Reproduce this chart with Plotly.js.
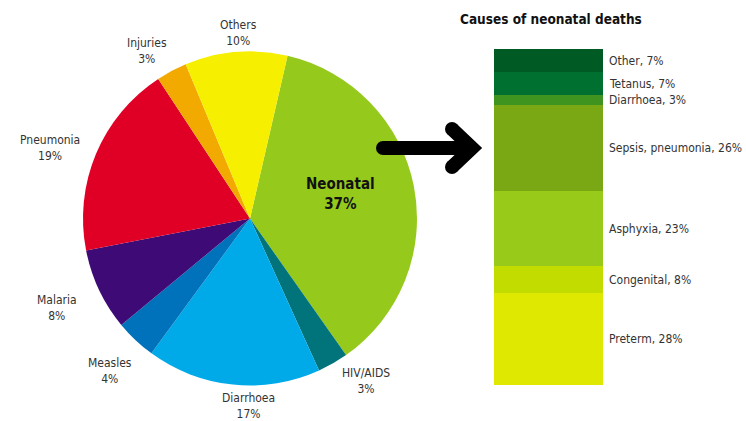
<!DOCTYPE html>
<html><head><meta charset="utf-8">
<script src="https://cdn.plot.ly/plotly-3.0.1.min.js"></script>
<style>html,body{margin:0;padding:0;background:#fff;}#c{width:746px;height:421px;}</style>
</head><body><div id="c"></div>
<script>
// Pie: causes of child deaths (clockwise from Neonatal)
var pieLabels = ["Neonatal","HIV/AIDS","Diarrhoea","Measles","Malaria","Pneumonia","Injuries","Others"];
var pieValues = [37,3,17,4,8,19,3,10];
var pieColors = ["#95c91b","#00737b","#00aae8","#0072bb","#3d0a76","#e00026","#f2a900","#f7ef00"];

// Stacked bar: causes of neonatal deaths (bottom to top)
var barLabels = ["Preterm","Congenital","Asphyxia","Sepsis, pneumonia","Diarrhoea","Tetanus","Other"];
var barValues = [28,8,23,26,3,7,7];
var barColors = ["#dfe800","#c2dc00","#97ca19","#7aa815","#3f9420","#007030","#005a24"];

var W = 746, H = 421;
function px(x){return x/W;}
function py(y){return 1 - y/H;}

var FONT = "DejaVu Sans Condensed, sans-serif";

var traces = [{
  type:"pie", labels:pieLabels, values:pieValues, sort:false, direction:"clockwise",
  rotation:13, marker:{colors:pieColors, line:{width:0}}, textinfo:"none", hoverinfo:"label+value",
  domain:{x:[px(83),px(417)], y:[py(386),py(51)]}, showlegend:false
}];
barLabels.forEach(function(l,i){
  traces.push({type:"bar", x:[0], y:[barValues[i]], width:1, name:l,
    marker:{color:barColors[i], line:{width:0}}, xaxis:"x", yaxis:"y", showlegend:false, hoverinfo:"name+y"});
});

// pie label annotation positions (centre of two-line label)
var pieLabelPos = {
  "Neonatal":[340,194], "HIV/AIDS":[366,381], "Diarrhoea":[248,406], "Measles":[110,371],
  "Malaria":[57,308], "Pneumonia":[50,148], "Injuries":[147,51], "Others":[238,33]
};
var ann = [];
pieLabels.forEach(function(l,i){
  var p = pieLabelPos[l];
  var big = (l==="Neonatal");
  ann.push({xref:"paper", yref:"paper", x:px(p[0]), y:py(p[1]), xanchor:"center", yanchor:"middle",
    text: big ? "<b>"+l+"<br>"+pieValues[i]+"%</b>" : l+"<br>"+pieValues[i]+"%",
    showarrow:false, align:"center",
    font:{family:FONT, size: big?15:12, color: big?"#111":"#333"}});
});
var cum = 0;
barLabels.forEach(function(l,i){
  var mid = cum + barValues[i]/2; cum += barValues[i];
  ann.push({xref:"paper", yref:"y", x:px(607), y:mid, xanchor:"left", yanchor:"middle",
    text:l+", "+barValues[i]+"%", showarrow:false, font:{family:FONT, size:12, color:"#333"}});
});
ann.push({xref:"paper", yref:"paper", x:px(551), y:py(19), xanchor:"center", yanchor:"middle",
  text:"<b>Causes of neonatal deaths</b>", showarrow:false, font:{family:FONT, size:13.5, color:"#111"}});

// arrow decoration
var shapes = [
  {type:"path", xref:"paper", yref:"paper",
   path:"M "+px(383)+" "+py(148)+" L "+px(472)+" "+py(148), line:{color:"#000", width:14}},
  {type:"path", xref:"paper", yref:"paper",
   path:"M "+px(452)+" "+py(129)+" L "+px(472)+" "+py(148)+" L "+px(452)+" "+py(167), line:{color:"#000", width:14}}
];
[[383,148],[452,129],[452,167]].forEach(function(c){
  shapes.push({type:"circle", xref:"paper", yref:"paper", x0:px(c[0]-7), x1:px(c[0]+7), y0:py(c[1]+7), y1:py(c[1]-7),
    fillcolor:"#000", line:{width:0}});
});

var layout = {
  width:W, height:H, margin:{l:0,r:0,t:0,b:0}, paper_bgcolor:"#fff", plot_bgcolor:"rgba(0,0,0,0)",
  barmode:"stack", bargap:0,
  xaxis:{domain:[px(494),px(603)], range:[-0.5,0.5], visible:false, fixedrange:true},
  yaxis:{domain:[py(385),py(49)], range:[0,cum], visible:false, fixedrange:true},
  annotations:ann, shapes:shapes, showlegend:false
};
Plotly.newPlot("c", traces, layout, {displayModeBar:false, staticPlot:true});
</script></body></html>
